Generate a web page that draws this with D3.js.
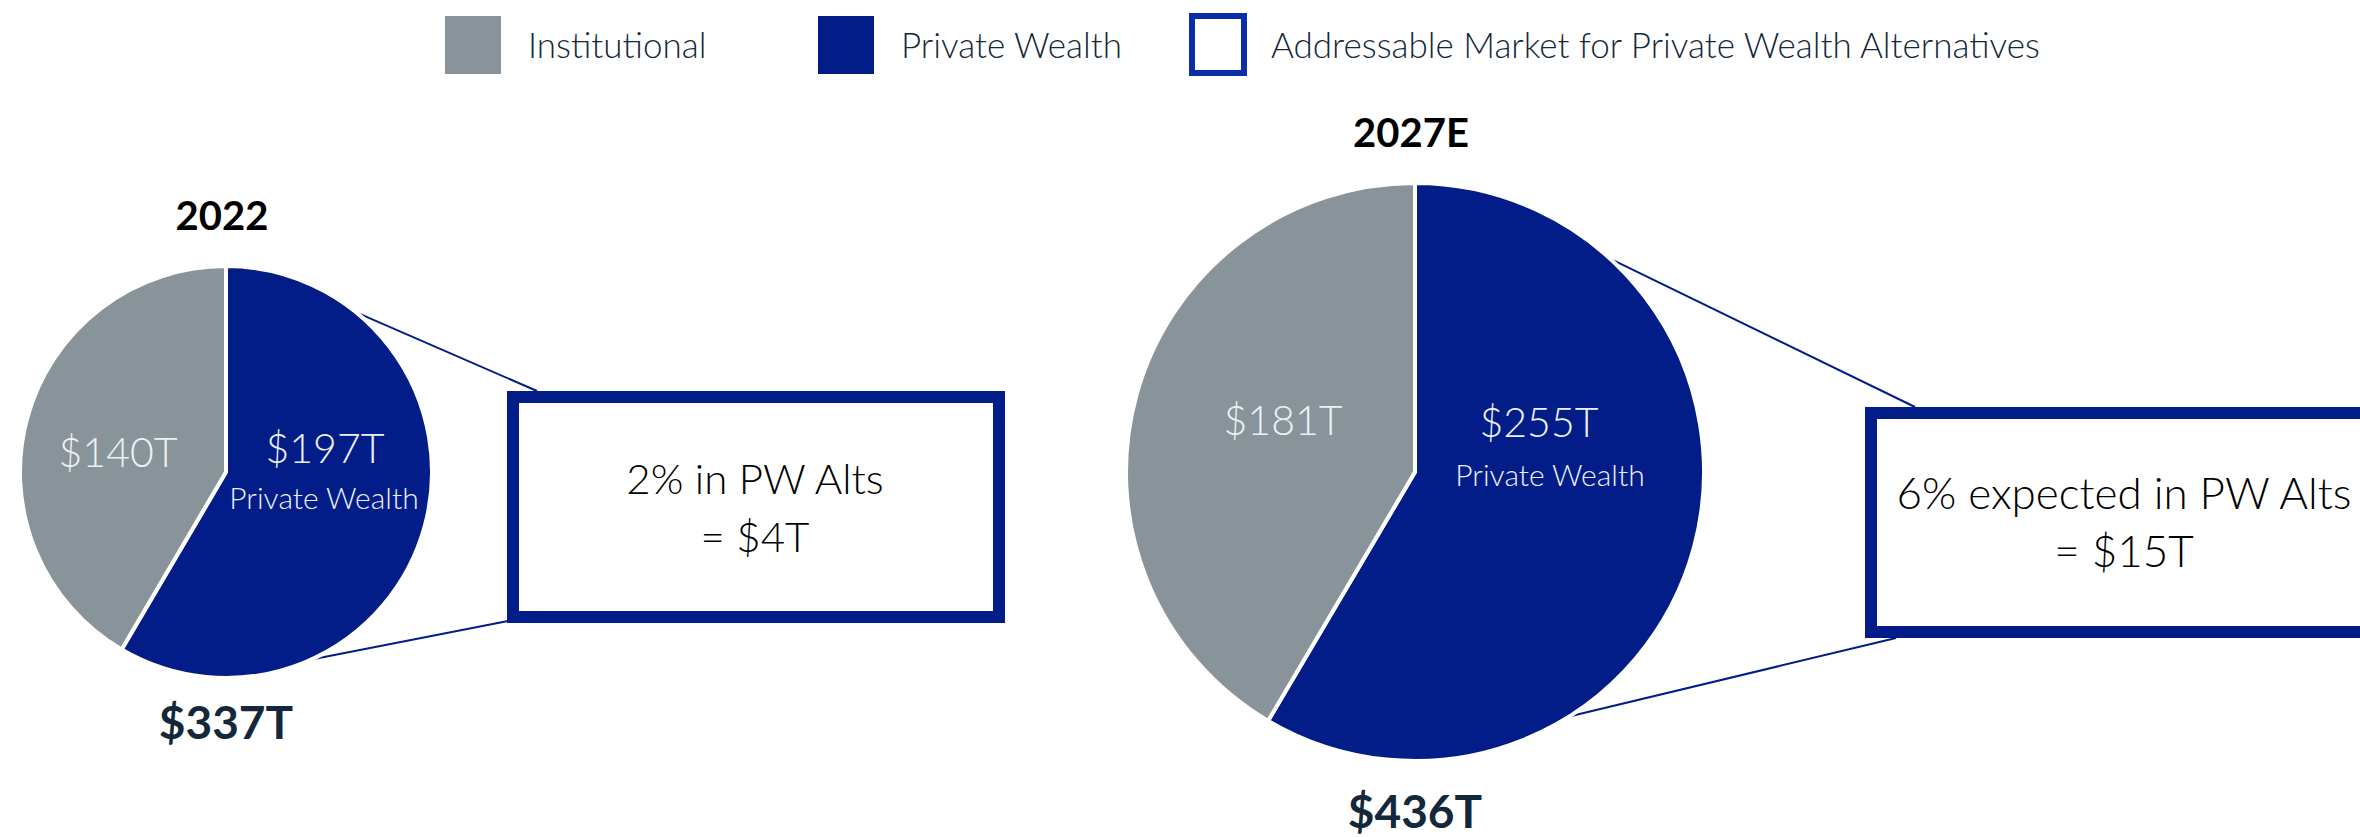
<!DOCTYPE html>
<html>
<head>
<meta charset="utf-8">
<script src="https://cdn.jsdelivr.net/npm/d3@7"></script>
<style>
  body { margin: 0; background: #fff; }
  svg { display: block; font-family: Lato, "Open Sans", sans-serif; }
</style>
</head>
<body>
<svg id="chart"></svg>
<script>
// chart data
const years = ["2022", "2027E"];
const totals = ["$337T", "$436T"];
const categories = ["Private Wealth", "Institutional"];
const privateWealth = [197, 255];
const institutional = [140, 181];
const altsShare = ["2% in PW Alts", "6% expected in PW Alts"];
const altsValue = ["= $4T", "= $15T"];
const legendLabels = ["Institutional", "Private Wealth", "Addressable Market for Private Wealth Alternatives"];

(function(){

  const width = 2360, height = 837;
  const navy = "#021c88", grey = "#89939a", ink = "#13283a";

  const svg = d3.select("#chart").attr("width", width).attr("height", height);

  const colour = d3.scaleOrdinal().domain(categories).range([navy, grey]);

  // layout for the two pies and their call-out boxes
  const layout = [
    {cx: 226, cy: 472, r: 206, totalY: 739, boxFont: 42,
     labels: [[99, -9], [-108, -5]], subLabel: [98, 37],
     box: {x: 507, y: 391, w: 498, h: 232}, textX: 755, textY: 494,
     lines: [[37, 537, 391], [158, 508, 621]]},
    {cx: 1415, cy: 472, r: 289, totalY: 828, boxFont: 44,
     labels: [[124, -35], [-132, -37]], subLabel: [135, 14],
     box: {x: 1865, y: 407, w: 520, h: 231}, textX: 2124, textY: 509,
     lines: [[41, 1915, 407], [149, 1896, 638]]}
  ];

  const pie = d3.pie().sort(null).value(d => d.value);

  years.forEach((year, i) => {
    const L = layout[i];
    const slices = pie([
      {name: categories[0], value: privateWealth[i]},
      {name: categories[1], value: institutional[i]}
    ]);

    // connector lines (drawn first, pie covers their start)
    L.lines.forEach(([deg, x2, y2]) => {
      const a = deg * Math.PI / 180;
      svg.append("line")
        .attr("x1", L.cx + Math.sin(a) * (L.r - 2))
        .attr("y1", L.cy - Math.cos(a) * (L.r - 2))
        .attr("x2", x2).attr("y2", y2)
        .attr("stroke", navy).attr("stroke-width", 2);
    });

    const arc = d3.arc().innerRadius(0).outerRadius(L.r);
    const g = svg.append("g").attr("transform", `translate(${L.cx},${L.cy})`);

    g.selectAll("path")
      .data(slices)
      .enter()
        .append("path")
        .attr("d", arc)
        .attr("fill", d => colour(d.data.name))
        .attr("stroke", "#fff")
        .attr("stroke-width", 4)
        .attr("stroke-linejoin", "round");

    g.selectAll("text.val")
      .data(slices)
      .enter()
        .append("text")
        .attr("class", "val")
        .attr("x", (d, j) => L.labels[j][0])
        .attr("y", (d, j) => L.labels[j][1])
        .attr("text-anchor", "middle")
        .attr("fill", "#eef1f4")
        .style("font-size", "41px")
        .style("font-weight", 300)
        .text(d => "$" + d.value + "T");

    g.append("text")
      .attr("x", L.subLabel[0]).attr("y", L.subLabel[1])
      .attr("text-anchor", "middle")
      .attr("fill", "#eef1f4")
      .style("font-size", "30px")
      .style("font-weight", 300)
      .text(categories[0]);

    // year on top, total underneath
    svg.append("text")
      .attr("x", L.cx - 4).attr("y", L.cy - L.r - 36)
      .attr("text-anchor", "middle")
      .attr("fill", "#000")
      .style("font-size", "40px")
      .style("font-weight", 700)
      .text(year);

    svg.append("text")
      .attr("x", L.cx).attr("y", L.totalY)
      .attr("text-anchor", "middle")
      .attr("fill", ink)
      .style("font-size", "46px")
      .style("font-weight", 700)
      .text(totals[i]);

    // call-out box
    svg.append("rect")
      .attr("x", L.box.x + 6).attr("y", L.box.y + 6)
      .attr("width", L.box.w - 12).attr("height", L.box.h - 12)
      .attr("fill", "#fff")
      .attr("stroke", navy).attr("stroke-width", 12);

    svg.append("text")
      .attr("x", L.textX).attr("y", L.textY)
      .attr("text-anchor", "middle")
      .attr("fill", "#000")
      .style("font-size", L.boxFont + "px")
      .style("font-weight", 300)
      .text(altsShare[i]);

    svg.append("text")
      .attr("x", L.textX).attr("y", L.textY + 58)
      .attr("text-anchor", "middle")
      .attr("fill", "#000")
      .style("font-size", L.boxFont + "px")
      .style("font-weight", 300)
      .text(altsValue[i]);
  });

  // legend
  const legendX = [445, 818, 1189];
  const legend = svg.selectAll("g.legend")
    .data(legendLabels)
    .enter()
      .append("g")
      .attr("class", "legend")
      .attr("transform", (d, i) => `translate(${legendX[i]},16)`);

  legend.append("rect")
    .attr("x", (d, i) => i === 2 ? 3 : 0)
    .attr("y", 0)
    .attr("width", (d, i) => i === 2 ? 52 : 56)
    .attr("height", (d, i) => i === 2 ? 57 : 58)
    .attr("fill", (d, i) => i === 0 ? grey : i === 1 ? navy : "#fff")
    .attr("stroke", (d, i) => i === 2 ? "#0b2ea8" : "none")
    .attr("stroke-width", 6);

  legend.append("text")
    .attr("x", (d, i) => i === 2 ? 82 : 83)
    .attr("y", 42)
    .attr("fill", ink)
    .style("font-size", "35px")
    .style("font-weight", 300)
    .text(d => d);

})();
</script>
</body>
</html>
